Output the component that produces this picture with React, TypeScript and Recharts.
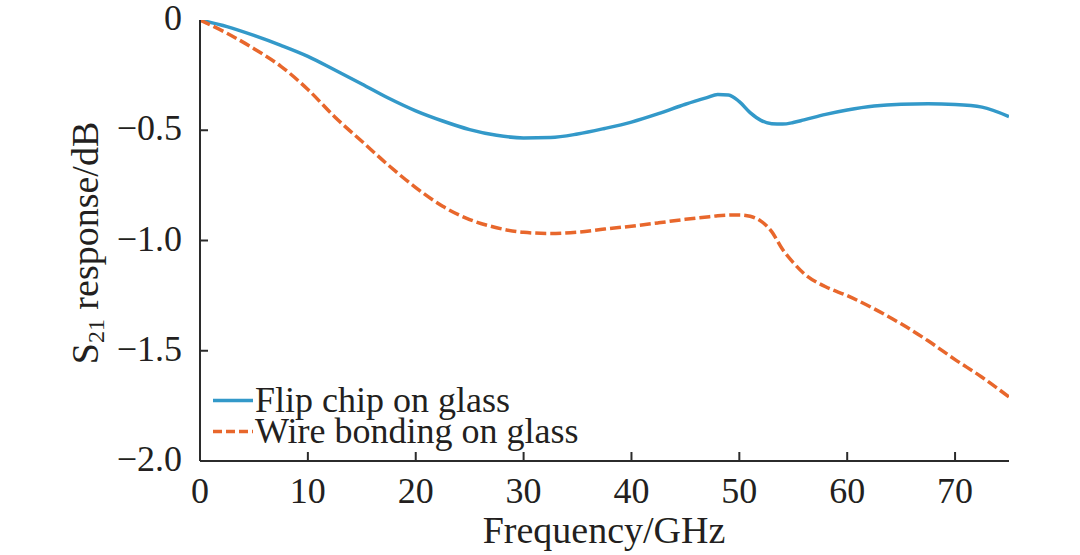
import React from "react";
import { LineChart, Line, XAxis, YAxis, Legend } from "recharts";

// Frequency sample points (GHz)
const freq = [
  0, 2.5, 5, 7.5, 10, 12.5, 15, 17.5, 20, 22.5, 25, 27.5, 30, 32.5, 35, 37.5, 40,
  42.5, 45, 47, 48, 49, 50, 51, 52, 53, 54, 55, 56, 58, 60, 62.5, 65, 67.5, 70, 72.5, 75,
];

// S21 of the flip-chip assembly (dB)
const flipChip = [
  0, -0.03, -0.07, -0.115, -0.165, -0.227, -0.29, -0.355, -0.412, -0.458, -0.497, -0.523,
  -0.535, -0.533, -0.517, -0.492, -0.463, -0.425, -0.382, -0.352, -0.338, -0.34, -0.37,
  -0.42, -0.455, -0.47, -0.472, -0.465, -0.453, -0.428, -0.408, -0.39, -0.382, -0.38,
  -0.383, -0.395, -0.438,
];

// S21 of the wire-bonded assembly (dB)
const wireBonding = [
  0, -0.06, -0.13, -0.21, -0.315, -0.44, -0.55, -0.66, -0.76, -0.845, -0.905, -0.942,
  -0.963, -0.968, -0.962, -0.948, -0.935, -0.92, -0.904, -0.893, -0.888, -0.885, -0.884,
  -0.89, -0.912, -0.96, -1.04, -1.1, -1.15, -1.21, -1.25, -1.31, -1.378, -1.455, -1.54,
  -1.62, -1.71,
];

const xTicks = [0, 10, 20, 30, 40, 50, 60, 70];
const yTicks = [0, -0.5, -1.0, -1.5, -2.0];

const seriesNames = ["Flip chip on glass", "Wire bonding on glass"];

const data = freq.map((f, i) => ({ f, flip: flipChip[i], wire: wireBonding[i] }));

const FONT = '"Liberation Serif", "Times New Roman", serif';
const INK = "#231f20";
const AXIS = "#2b2b2b";
const BLUE = "#3399c9";
const ORANGE = "#e8672c";

const fmtY = (v: number) => (v === 0 ? "0" : "\u2212" + Math.abs(v).toFixed(1));

const BottomTick = (props: any) => {
  const { x, y, payload } = props;
  return (
    <g>
      {payload.value !== 0 && (
        <line x1={x} x2={x} y1={y} y2={y - 9} stroke={AXIS} strokeWidth={2} />
      )}
      <text x={x} y={y + 42} textAnchor="middle" fontFamily={FONT} fontSize={36} fill={INK}>
        {payload.value}
      </text>
    </g>
  );
};

const LeftTick = (props: any) => {
  const { x, y, payload } = props;
  const edge = payload.value === 0 || payload.value === -2;
  return (
    <g>
      {!edge && <line x1={x} x2={x + 8} y1={y} y2={y} stroke={AXIS} strokeWidth={2} />}
      <text x={x - 18} y={y + 10} textAnchor="end" fontFamily={FONT} fontSize={36} fill={INK}>
        {fmtY(payload.value)}
      </text>
    </g>
  );
};

const YTitle = () => (
  <text
    x={98}
    y={243}
    transform="rotate(-90, 98, 243)"
    textAnchor="middle"
    fontFamily={FONT}
    fontSize={38}
    fill={INK}
  >
    S
    <tspan fontSize={24} dy={6}>
      21
    </tspan>
    <tspan dy={-6}> response/dB</tspan>
  </text>
);

const XTitle = () => (
  <text x={604} y={543} textAnchor="middle" fontFamily={FONT} fontSize={38} fill={INK}>
    Frequency/GHz
  </text>
);

const LegendBox = () => (
  <div style={{ fontFamily: FONT, fontSize: 36, color: INK }}>
    {seriesNames.map((name, i) => (
      <div key={name} style={{ display: "flex", alignItems: "center", height: 31, lineHeight: "31px", whiteSpace: "nowrap" }}>
        <svg width={40} height={31} style={{ marginRight: 2 }}>
          <line
            x1={0}
            x2={40}
            y1={15.5}
            y2={15.5}
            stroke={i === 0 ? BLUE : ORANGE}
            strokeWidth={3.5}
            strokeDasharray={i === 0 ? undefined : "9 4"}
          />
        </svg>
        <span>{name}</span>
      </div>
    ))}
  </div>
);

export default function App() {
  return (
    <div style={{ position: "absolute", left: 0, top: 0, background: "#fff" }}>
      <LineChart
        width={1080}
        height={555}
        data={data}
        margin={{ top: 20, right: 71, bottom: 0, left: 0 }}
      >
        <XAxis
          dataKey="f"
          type="number"
          domain={[0, 75]}
          ticks={xTicks}
          interval={0}
          tickSize={0}
          tickMargin={0}
          tickLine={false}
          tick={<BottomTick />}
          axisLine={{ stroke: AXIS, strokeWidth: 2 }}
          height={94}
          label={<XTitle />}
          allowDataOverflow
        />
        <XAxis
          xAxisId="top"
          orientation="top"
          type="number"
          domain={[0, 75]}
          height={0}
          tick={false}
          tickLine={false}
          axisLine={{ stroke: AXIS, strokeWidth: 2 }}
        />
        <YAxis
          type="number"
          domain={[-2, 0]}
          ticks={yTicks}
          interval={0}
          width={200}
          tickSize={0}
          tickMargin={0}
          tickLine={false}
          tick={<LeftTick />}
          axisLine={{ stroke: AXIS, strokeWidth: 2 }}
          label={<YTitle />}
          allowDataOverflow
        />
        <YAxis
          yAxisId="right"
          orientation="right"
          type="number"
          domain={[-2, 0]}
          width={0}
          tick={false}
          tickLine={false}
          axisLine={{ stroke: AXIS, strokeWidth: 2 }}
        />
        <Legend
          layout="horizontal"
          align="center"
          verticalAlign="middle"
          content={<LegendBox />}
          wrapperStyle={{ left: 213, top: 385, width: "auto", bottom: "auto" }}
        />
        <Line
          type="monotone"
          dataKey="flip"
          name={seriesNames[0]}
          stroke={BLUE}
          strokeWidth={3.5}
          dot={false}
          isAnimationActive={false}
        />
        <Line
          type="monotone"
          dataKey="wire"
          name={seriesNames[1]}
          stroke={ORANGE}
          strokeWidth={3.5}
          strokeDasharray="11 4"
          dot={false}
          isAnimationActive={false}
        />
      </LineChart>
    </div>
  );
}
